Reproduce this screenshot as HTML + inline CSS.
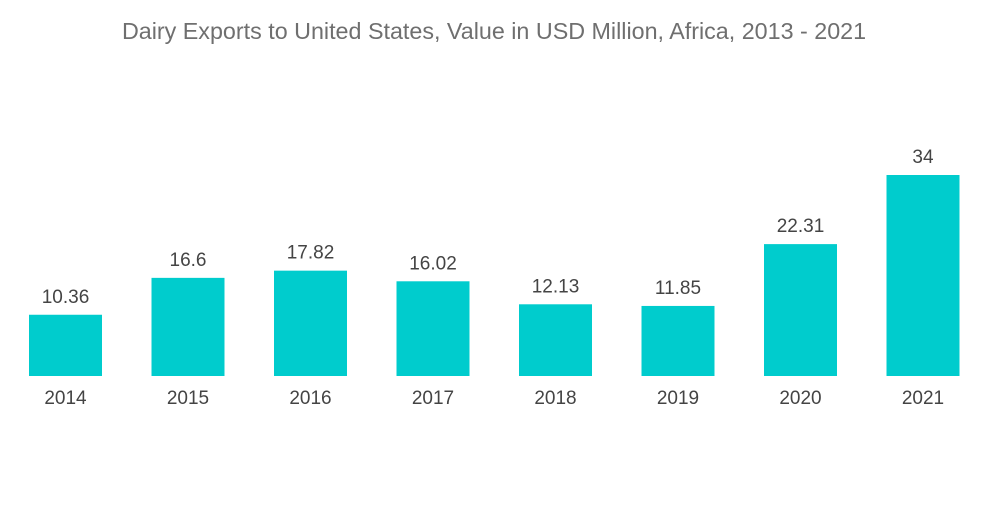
<!DOCTYPE html>
<html><head><meta charset="utf-8"><style>
body{margin:0;background:#fff;width:1000px;height:504px;overflow:hidden;font-family:"Liberation Sans",sans-serif}
</style></head><body>
<svg width="1000" height="504">
<text x="494" y="39" text-anchor="middle" font-size="23.3" fill="#6f6f6f">Dairy Exports to United States, Value in USD Million, Africa, 2013 - 2021</text>
<g id="bars"></g>
</svg>
<script>
const categories=["2014","2015","2016","2017","2018","2019","2020","2021"];
const values=[10.36,16.6,17.82,16.02,12.13,11.85,22.31,34];
const labels=["10.36","16.6","17.82","16.02","12.13","11.85","22.31","34"];
const base=376, scale=201/34, x0=65.5, step=122.5, bw=73;
const yS=v=>base-v*scale, xS=i=>x0+i*step;
const g=document.getElementById('bars'), ns="http://www.w3.org/2000/svg";
values.forEach((v,i)=>{
 const r=document.createElementNS(ns,'rect');
 r.setAttribute('x',xS(i)-bw/2);r.setAttribute('y',yS(v));r.setAttribute('width',bw);r.setAttribute('height',base-yS(v));r.setAttribute('fill','#00cccd');
 
 
 g.appendChild(r);
 const t=document.createElementNS(ns,'text');
 t.setAttribute('x',xS(i));t.setAttribute('y',yS(v)-12);t.setAttribute('text-anchor','middle');t.setAttribute('font-size','19');t.setAttribute('fill','#444');
 t.textContent=labels[i];
 
 
 g.appendChild(t);
 const c=document.createElementNS(ns,'text');
 c.setAttribute('x',xS(i));c.setAttribute('y',404);c.setAttribute('text-anchor','middle');c.setAttribute('font-size','19');c.setAttribute('fill','#444');
 c.textContent=categories[i];
 
 
 g.appendChild(c);
});
</script>
</body></html>
